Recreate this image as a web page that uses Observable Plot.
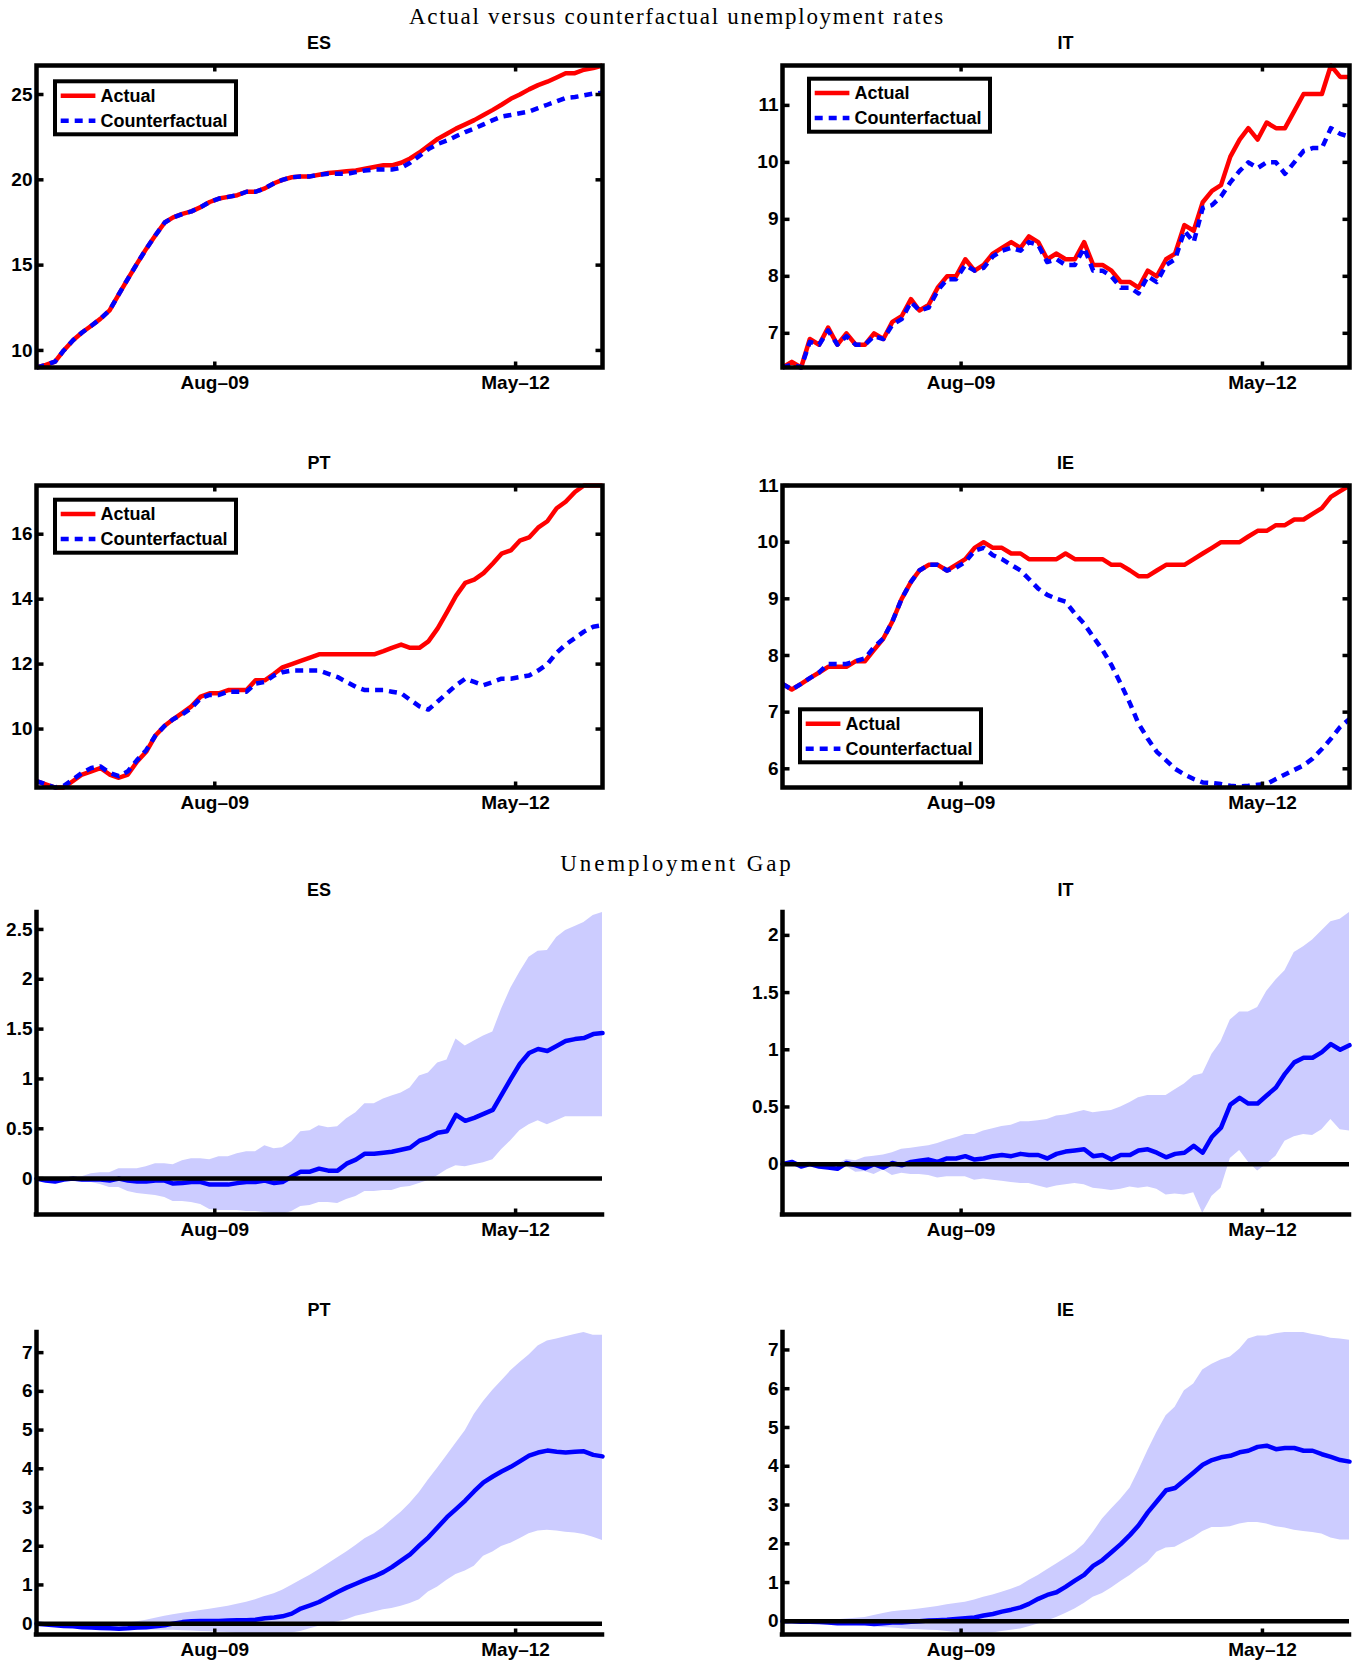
<!DOCTYPE html>
<html>
<head>
<meta charset="utf-8">
<script src="https://cdn.jsdelivr.net/npm/d3@7"></script>
<script src="https://cdn.jsdelivr.net/npm/@observablehq/plot@0.6"></script>
<style>
html,body{margin:0;padding:0;background:#fff;}
#root{position:relative;width:1359px;height:1660px;overflow:hidden;background:#fff;}
#root .panel{position:absolute;}
#root .panel svg{max-width:none;display:block;overflow:visible;background:transparent;}
#overlay{position:absolute;left:0;top:0;pointer-events:none;}
</style>
</head>
<body>
<div id="root"></div>
<script>
// ---------- text ----------
const sectionTitles = ["Actual versus counterfactual unemployment rates", "Unemployment Gap"];
const countries = ["ES", "IT", "PT", "IE"];
const seriesNames = ["Actual", "Counterfactual"];

// ---------- time axis: monthly, Dec 2007 .. Feb 2013 (63 months) ----------
const firstMonth = new Date(Date.UTC(2007, 11, 1));
const endMonth = new Date(Date.UTC(2013, 2, 1));
const xTickDates = [new Date(Date.UTC(2009, 7, 1)), new Date(Date.UTC(2012, 4, 1))]; // Aug-09, May-12

// ---------- actual vs counterfactual unemployment rates ----------
const esActual = [9.0, 9.15, 9.35, 10.0, 10.6, 11.05, 11.45, 11.85, 12.35, 13.3,
  14.2, 15.1, 15.95, 16.75, 17.5, 17.8, 18.0, 18.15, 18.4, 18.7,
  18.9, 19.0, 19.1, 19.3, 19.3, 19.5, 19.8, 20.0, 20.15, 20.2,
  20.2, 20.3, 20.4, 20.45, 20.5, 20.55, 20.65, 20.75, 20.85, 20.85,
  21.0, 21.25, 21.6, 22.0, 22.4, 22.7, 23.0, 23.25, 23.5, 23.8,
  24.1, 24.4, 24.75, 25.0, 25.3, 25.55, 25.75, 26.0, 26.25, 26.25,
  26.45, 26.55, 26.7];
const esCounterfactual = [9.0, 9.15, 9.35, 10.0, 10.6, 11.05, 11.45, 11.85, 12.35, 13.3,
  14.2, 15.1, 15.95, 16.75, 17.5, 17.8, 18.0, 18.15, 18.4, 18.7,
  18.9, 19.0, 19.1, 19.3, 19.3, 19.5, 19.8, 20.0, 20.15, 20.2,
  20.2, 20.3, 20.35, 20.35, 20.35, 20.45, 20.55, 20.6, 20.6, 20.6,
  20.7, 21.0, 21.4, 21.8, 22.1, 22.3, 22.55, 22.8, 23.0, 23.25,
  23.5, 23.7, 23.8, 23.9, 24.0, 24.2, 24.4, 24.6, 24.8, 24.85,
  24.95, 25.05, 25.1];

const itActual = [6.4, 6.5, 6.4, 6.9, 6.8, 7.1, 6.8, 7.0, 6.8, 6.8,
  7.0, 6.9, 7.2, 7.3, 7.6, 7.4, 7.5, 7.8, 8.0, 8.0,
  8.3, 8.1, 8.2, 8.4, 8.5, 8.6, 8.5, 8.7, 8.6, 8.3,
  8.4, 8.3, 8.3, 8.6, 8.2, 8.2, 8.1, 7.9, 7.9, 7.8,
  8.1, 8.0, 8.3, 8.4, 8.9, 8.8, 9.3, 9.5, 9.6, 10.1,
  10.4, 10.6, 10.4, 10.7, 10.6, 10.6, 10.9, 11.2, 11.2, 11.2,
  11.7, 11.5, 11.5];
const itCounterfactual = [6.4, 6.45, 6.4, 6.85, 6.8, 7.05, 6.8, 6.95, 6.8, 6.8,
  6.95, 6.9, 7.15, 7.25, 7.55, 7.4, 7.45, 7.75, 7.95, 7.95,
  8.2, 8.1, 8.15, 8.35, 8.45, 8.5, 8.45, 8.6, 8.55, 8.25,
  8.3, 8.2, 8.2, 8.5, 8.1, 8.1, 8.0, 7.8, 7.8, 7.7,
  8.0, 7.9, 8.2, 8.3, 8.8, 8.6, 9.2, 9.25, 9.4, 9.65,
  9.85, 10.0, 9.9, 10.0, 10.0, 9.8, 10.0, 10.2, 10.25, 10.25,
  10.6, 10.5, 10.45];

const ptActual = [8.4, 8.3, 8.2, 8.2, 8.4, 8.6, 8.7, 8.8, 8.6, 8.5,
  8.6, 9.0, 9.3, 9.8, 10.1, 10.3, 10.5, 10.7, 11.0, 11.1,
  11.1, 11.2, 11.2, 11.2, 11.5, 11.5, 11.7, 11.9, 12.0, 12.1,
  12.2, 12.3, 12.3, 12.3, 12.3, 12.3, 12.3, 12.3, 12.4, 12.5,
  12.6, 12.5, 12.5, 12.7, 13.1, 13.6, 14.1, 14.5, 14.6, 14.8,
  15.1, 15.4, 15.5, 15.8, 15.9, 16.2, 16.4, 16.8, 17.0, 17.3,
  17.5, 17.5, 17.5];
const ptCounterfactual = [8.4, 8.3, 8.2, 8.25, 8.45, 8.65, 8.8, 8.85, 8.65, 8.55,
  8.7, 9.05, 9.35, 9.8, 10.1, 10.3, 10.45, 10.65, 10.95, 11.05,
  11.05, 11.15, 11.15, 11.15, 11.4, 11.45, 11.65, 11.75, 11.8, 11.8,
  11.8, 11.8, 11.7, 11.6, 11.45, 11.3, 11.2, 11.2, 11.2, 11.15,
  11.1, 10.9, 10.7, 10.6, 10.85, 11.1, 11.35, 11.55, 11.45, 11.35,
  11.45, 11.55, 11.55, 11.6, 11.65, 11.8, 12.0, 12.35, 12.6, 12.8,
  13.0, 13.15, 13.2];

const ieActual = [7.5, 7.4, 7.5, 7.6, 7.7, 7.8, 7.8, 7.8, 7.9, 7.9,
  8.1, 8.3, 8.6, 9.0, 9.3, 9.5, 9.6, 9.6, 9.5, 9.6,
  9.7, 9.9, 10.0, 9.9, 9.9, 9.8, 9.8, 9.7, 9.7, 9.7,
  9.7, 9.8, 9.7, 9.7, 9.7, 9.7, 9.6, 9.6, 9.5, 9.4,
  9.4, 9.5, 9.6, 9.6, 9.6, 9.7, 9.8, 9.9, 10.0, 10.0,
  10.0, 10.1, 10.2, 10.2, 10.3, 10.3, 10.4, 10.4, 10.5, 10.6,
  10.8, 10.9, 11.0];
const ieCounterfactual = [7.5, 7.4, 7.5, 7.6, 7.7, 7.85, 7.85, 7.85, 7.9, 7.95,
  8.15, 8.3, 8.6, 9.0, 9.3, 9.5, 9.6, 9.6, 9.5, 9.55,
  9.65, 9.85, 9.9, 9.77, 9.7, 9.6, 9.5, 9.35, 9.18, 9.07,
  9.0, 8.95, 8.74, 8.56, 8.33, 8.1, 7.83, 7.5, 7.15, 6.8,
  6.53, 6.3, 6.15, 6.0, 5.9, 5.82, 5.76, 5.75, 5.73, 5.7,
  5.69, 5.7, 5.72, 5.73, 5.82, 5.9, 5.98, 6.06, 6.18, 6.35,
  6.53, 6.74, 6.88];

// ---------- unemployment gap (median and band) ----------
const esGapMedian = [0, -0.02, -0.03, -0.01, 0, -0.01, -0.01, -0.01, -0.02, 0,
  -0.02, -0.03, -0.03, -0.02, -0.02, -0.05, -0.045, -0.035, -0.035, -0.06,
  -0.06, -0.06, -0.045, -0.035, -0.035, -0.02, -0.045, -0.035, 0.02, 0.07,
  0.07, 0.1, 0.08, 0.08, 0.15, 0.19, 0.25, 0.25, 0.26, 0.27,
  0.29, 0.31, 0.38, 0.41, 0.46, 0.475, 0.64, 0.58, 0.61, 0.65,
  0.69, 0.84, 1.0, 1.15, 1.26, 1.3, 1.28, 1.33, 1.38, 1.4,
  1.41, 1.45, 1.46];
const esGapUpper = [0, 0.01, 0.01, 0.01, 0.01, 0.02, 0.05, 0.06, 0.06, 0.1,
  0.1, 0.1, 0.12, 0.15, 0.15, 0.14, 0.18, 0.2, 0.2, 0.19,
  0.22, 0.22, 0.25, 0.27, 0.27, 0.33, 0.3, 0.31, 0.37, 0.47,
  0.48, 0.53, 0.51, 0.52, 0.6, 0.66, 0.75, 0.75, 0.8, 0.83,
  0.86, 0.91, 1.03, 1.06, 1.16, 1.19, 1.4, 1.33, 1.38, 1.43,
  1.47, 1.7, 1.91, 2.07, 2.22, 2.28, 2.29, 2.42, 2.49, 2.53,
  2.57, 2.64, 2.67];
const esGapLower = [0, -0.02, -0.01, -0.01, -0.03, -0.04, -0.04, -0.06, -0.09, -0.09,
  -0.13, -0.15, -0.16, -0.17, -0.19, -0.23, -0.23, -0.24, -0.26, -0.31,
  -0.32, -0.32, -0.32, -0.33, -0.33, -0.34, -0.35, -0.36, -0.33, -0.28,
  -0.27, -0.24, -0.24, -0.25, -0.21, -0.18, -0.13, -0.13, -0.12, -0.12,
  -0.09, -0.08, -0.05, -0.02, 0.03, 0.09, 0.13, 0.12, 0.14, 0.16,
  0.19, 0.29, 0.38, 0.48, 0.54, 0.58, 0.54, 0.58, 0.62, 0.62,
  0.62, 0.62, 0.62];

const itGapMedian = [0, 0.02, -0.02, 0, -0.02, -0.03, -0.04, 0.01, -0.01, -0.035,
  0, -0.03, 0.01, -0.01, 0.02, 0.03, 0.04, 0.02, 0.05, 0.05,
  0.07, 0.04, 0.05, 0.07, 0.08, 0.07, 0.09, 0.08, 0.08, 0.05,
  0.09, 0.11, 0.12, 0.13, 0.07, 0.08, 0.04, 0.08, 0.08, 0.12,
  0.13, 0.1, 0.06, 0.09, 0.1, 0.16, 0.1, 0.24, 0.32, 0.52,
  0.58, 0.53, 0.53, 0.6, 0.67, 0.79, 0.89, 0.93, 0.93, 0.98,
  1.05, 1.0, 1.04];
const itGapUpper = [0.02, 0.03, 0.01, 0.02, 0.0, 0.01, 0.0, 0.04, 0.03, 0.06,
  0.07, 0.08, 0.1, 0.13, 0.14, 0.15, 0.16, 0.18, 0.21, 0.23,
  0.26, 0.26, 0.29, 0.31, 0.33, 0.34, 0.37, 0.37, 0.38, 0.39,
  0.42, 0.43, 0.45, 0.47, 0.45, 0.46, 0.47, 0.5, 0.54, 0.58,
  0.6, 0.6, 0.6, 0.65, 0.7, 0.77, 0.79, 0.96, 1.07, 1.26,
  1.33, 1.33, 1.37, 1.51, 1.61, 1.69, 1.85, 1.9, 1.96, 2.04,
  2.12, 2.14, 2.2];
const itGapLower = [-0.02, -0.01, -0.02, -0.02, -0.035, -0.02, -0.05, -0.02, -0.07, -0.065,
  -0.09, -0.05, -0.1, -0.08, -0.09, -0.09, -0.1, -0.12, -0.11, -0.11,
  -0.11, -0.14, -0.13, -0.14, -0.15, -0.16, -0.17, -0.17, -0.19, -0.21,
  -0.19, -0.18, -0.17, -0.18, -0.21, -0.22, -0.23, -0.22, -0.2, -0.21,
  -0.2, -0.22, -0.27, -0.26, -0.27, -0.25, -0.43, -0.28, -0.21, 0.05,
  0.12, 0.02, -0.06, 0.0, 0.07, 0.2, 0.24, 0.26, 0.25, 0.3,
  0.39, 0.3, 0.29];

const ptGapMedian = [0, -0.02, -0.04, -0.06, -0.07, -0.09, -0.1, -0.11, -0.12, -0.13,
  -0.12, -0.1, -0.09, -0.07, -0.04, 0.0, 0.04, 0.06, 0.07, 0.07,
  0.07, 0.08, 0.09, 0.09, 0.1, 0.14, 0.16, 0.19, 0.26, 0.39,
  0.47, 0.56, 0.69, 0.82, 0.93, 1.03, 1.13, 1.22, 1.33, 1.46,
  1.63, 1.79, 2.02, 2.23, 2.49, 2.75, 2.96, 3.18, 3.42, 3.65,
  3.8, 3.93, 4.05, 4.19, 4.34, 4.42, 4.47, 4.44, 4.42, 4.44,
  4.45, 4.36, 4.32];
const ptGapUpper = [0, 0, 0, 0, 0, -0.01, -0.01, 0, 0.01, 0.01,
  0.02, 0.05, 0.09, 0.14, 0.19, 0.23, 0.27, 0.3, 0.34, 0.37,
  0.41, 0.45, 0.5, 0.55, 0.62, 0.7, 0.77, 0.86, 0.99, 1.12,
  1.25, 1.39, 1.55, 1.7, 1.85, 2.02, 2.19, 2.32, 2.49, 2.68,
  2.88, 3.11, 3.39, 3.71, 4.02, 4.34, 4.66, 4.98, 5.4, 5.74,
  6.03, 6.27, 6.53, 6.74, 6.94, 7.17, 7.3, 7.35, 7.41, 7.47,
  7.52, 7.45, 7.45];
const ptGapLower = [0, -0.02, -0.04, -0.06, -0.08, -0.1, -0.11, -0.12, -0.13, -0.15,
  -0.17, -0.17, -0.17, -0.17, -0.17, -0.17, -0.18, -0.19, -0.2, -0.21,
  -0.22, -0.23, -0.26, -0.27, -0.27, -0.26, -0.26, -0.25, -0.24, -0.2,
  -0.13, -0.07, 0.0, 0.05, 0.1, 0.19, 0.24, 0.3, 0.36, 0.39,
  0.45, 0.52, 0.62, 0.82, 0.95, 1.12, 1.27, 1.36, 1.48, 1.74,
  1.85, 1.99, 2.08, 2.19, 2.32, 2.39, 2.41, 2.39, 2.36, 2.34,
  2.3, 2.23, 2.15];

const ieGapMedian = [0, 0, -0.01, -0.01, -0.02, -0.03, -0.05, -0.05, -0.05, -0.05,
  -0.07, -0.05, -0.03, -0.03, -0.01, 0, 0.02, 0.03, 0.04, 0.06,
  0.08, 0.1, 0.15, 0.19, 0.25, 0.3, 0.36, 0.45, 0.58, 0.68,
  0.75, 0.89, 1.05, 1.2, 1.43, 1.58, 1.78, 1.99, 2.23, 2.47,
  2.81, 3.09, 3.38, 3.44, 3.64, 3.84, 4.04, 4.16, 4.23, 4.27,
  4.36, 4.4, 4.5, 4.53, 4.44, 4.47, 4.47, 4.4, 4.4, 4.31,
  4.24, 4.16, 4.12];
const ieGapUpper = [0.01, 0.01, 0.01, 0.01, 0.02, 0.03, 0.04, 0.06, 0.08, 0.1,
  0.15, 0.2, 0.25, 0.27, 0.29, 0.32, 0.35, 0.38, 0.43, 0.46,
  0.49, 0.55, 0.62, 0.68, 0.75, 0.83, 0.92, 1.05, 1.18, 1.33,
  1.48, 1.63, 1.78, 1.99, 2.29, 2.64, 2.9, 3.15, 3.44, 3.88,
  4.4, 4.87, 5.3, 5.52, 5.95, 6.12, 6.48, 6.63, 6.74, 6.82,
  7.02, 7.28, 7.36, 7.36, 7.42, 7.45, 7.45, 7.45, 7.4, 7.36,
  7.3, 7.28, 7.25];
const ieGapLower = [-0.03, -0.03, -0.04, -0.05, -0.06, -0.07, -0.08, -0.1, -0.11, -0.12,
  -0.14, -0.16, -0.17, -0.19, -0.21, -0.22, -0.23, -0.24, -0.26, -0.29,
  -0.33, -0.34, -0.33, -0.3, -0.26, -0.23, -0.2, -0.14, -0.07, 0.01,
  0.1, 0.2, 0.32, 0.46, 0.62, 0.72, 0.86, 1.03, 1.18, 1.35,
  1.52, 1.78, 1.89, 1.91, 2.04, 2.16, 2.32, 2.42, 2.42, 2.44,
  2.51, 2.55, 2.55, 2.51, 2.44, 2.41, 2.35, 2.32, 2.29, 2.25,
  2.15, 2.1, 2.1];

// ---------- axis domains and ticks ----------
const rateDomains = {ES: [9.0, 26.7], IT: [6.4, 11.7], PT: [8.2, 17.5], IE: [5.67, 11.0]};
const rateTicks = {ES: [10, 15, 20, 25], IT: [7, 8, 9, 10, 11], PT: [10, 12, 14, 16], IE: [6, 7, 8, 9, 10, 11]};
const gapDomains = {ES: [-0.36, 2.67], IT: [-0.44, 2.2], PT: [-0.28, 7.52], IE: [-0.34, 7.45]};
const gapTicks = {ES: [0, 0.5, 1, 1.5, 2, 2.5], IT: [0, 0.5, 1, 1.5, 2], PT: [0, 1, 2, 3, 4, 5, 6, 7], IE: [0, 1, 2, 3, 4, 5, 6, 7]};

// ---------- build ----------
const dates = d3.utcMonth.range(firstMonth, endMonth).map(d => d3.utcDay.offset(d, 14));
const xDomain = [dates[0], dates[dates.length - 1]];
const fmtMonth = d3.utcFormat("%b\u2013%y");
const root = document.getElementById("root");
const FONT = "'Liberation Sans', Arial, Helvetica, sans-serif";
const plotStyle = {fontFamily: FONT, fontSize: "19px", fontWeight: "bold", color: "#000", background: "transparent", overflow: "visible"};
const labelFont = {fontSize: 19, fontWeight: "bold", fill: "#000"};
const LW = 4.5;

const layout = {
  cols: [{left: 0, marginLeft: 36, plotWidth: 566}, {left: 680, marginLeft: 102, plotWidth: 567}],
  rateRows: [65, 485],
  gapRows: [912, 1332]
};

function place(svg, left, top) {
  const d = document.createElement("div");
  d.className = "panel";
  d.style.left = left + "px";
  d.style.top = top + "px";
  d.append(svg);
  root.append(d);
}

function tickMarks(yTicks, mirrored) {
  const common = {tickSize: 6.5, strokeWidth: 3.5, stroke: "#000", fill: "none", label: null};
  const marks = [
    Plot.axisY(yTicks, {anchor: "right", frameAnchor: "left", ...common}),
    Plot.axisX(xTickDates, {anchor: "top", frameAnchor: "bottom", ...common})
  ];
  if (mirrored) {
    marks.push(Plot.axisY(yTicks, {anchor: "left", frameAnchor: "right", ...common}));
    marks.push(Plot.axisX(xTickDates, {anchor: "bottom", frameAnchor: "top", ...common}));
  }
  return marks;
}
function tickLabels(yTicks) {
  return [
    Plot.axisY(yTicks, {anchor: "left", tickSize: 0, tickPadding: 4, tickFormat: d => String(d), label: null, ...labelFont}),
    Plot.axisX(xTickDates, {anchor: "bottom", tickSize: 0, tickPadding: 7.5, tickFormat: fmtMonth, label: null, ...labelFont})
  ];
}

function ratePanel(code, actual, counterfactual, col, top) {
  const rows = dates.map((date, i) => ({date, actual: actual[i], counterfactual: counterfactual[i]}));
  const mT = 20, mB = 37, mR = 10, h = 302;
  const svg = Plot.plot({
    width: col.marginLeft + col.plotWidth + mR,
    height: mT + h + mB,
    marginLeft: col.marginLeft, marginRight: mR, marginTop: mT, marginBottom: mB,
    style: plotStyle,
    x: {type: "utc", domain: xDomain},
    y: {type: "linear", domain: rateDomains[code]},
    marks: [
      Plot.line(rows, {x: "date", y: "actual", stroke: "#ff0000", strokeWidth: LW, strokeLinejoin: "round", strokeLinecap: "butt"}),
      Plot.line(rows, {x: "date", y: "counterfactual", stroke: "#0000ff", strokeWidth: LW, strokeDasharray: "8,6", strokeLinecap: "butt"}),
      Plot.frame({stroke: "#000", strokeWidth: 4.5}),
      ...tickMarks(rateTicks[code], true),
      ...tickLabels(rateTicks[code])
    ]
  });
  place(svg, col.left, top - mT);
}

function gapPanel(code, lower, median, upper, col, top, mB) {
  const rows = dates.map((date, i) => ({date, lower: lower[i], median: median[i], upper: upper[i]}));
  const mT = 20, mR = 10, h = 302;
  const yDom = gapDomains[code];
  const svg = Plot.plot({
    width: col.marginLeft + col.plotWidth + mR,
    height: mT + h + mB,
    marginLeft: col.marginLeft, marginRight: mR, marginTop: mT, marginBottom: mB,
    style: plotStyle,
    x: {type: "utc", domain: xDomain},
    y: {type: "linear", domain: yDom},
    marks: [
      Plot.areaY(rows, {x: "date", y1: "lower", y2: "upper", fill: "#ccccff"}),
      Plot.line(rows, {x: "date", y: "median", stroke: "#0000ff", strokeWidth: LW}),
      Plot.ruleY([0], {stroke: "#000", strokeWidth: 4.5}),
      Plot.ruleX([xDomain[0]], {stroke: "#000", strokeWidth: 4.5, strokeLinecap: "square"}),
      Plot.ruleY([yDom[0]], {stroke: "#000", strokeWidth: 4.5, strokeLinecap: "square"}),
      ...tickMarks(gapTicks[code], false),
      ...tickLabels(gapTicks[code])
    ]
  });
  place(svg, col.left, top - mT);
}

const [L, R] = layout.cols;
ratePanel("ES", esActual, esCounterfactual, L, layout.rateRows[0]);
ratePanel("IT", itActual, itCounterfactual, R, layout.rateRows[0]);
ratePanel("PT", ptActual, ptCounterfactual, L, layout.rateRows[1]);
ratePanel("IE", ieActual, ieCounterfactual, R, layout.rateRows[1]);
gapPanel("ES", esGapLower, esGapMedian, esGapUpper, L, layout.gapRows[0], 37);
gapPanel("IT", itGapLower, itGapMedian, itGapUpper, R, layout.gapRows[0], 37);
gapPanel("PT", ptGapLower, ptGapMedian, ptGapUpper, L, layout.gapRows[1], 26);
gapPanel("IE", ieGapLower, ieGapMedian, ieGapUpper, R, layout.gapRows[1], 26);

// ---------- titles and legends (overlay) ----------
const overlay = d3.select(root).append("svg").attr("id", "overlay").attr("width", 1359).attr("height", 1660);
const serif = "'Liberation Serif', 'Times New Roman', serif";
overlay.append("text").attr("x", 677).attr("y", 24).attr("text-anchor", "middle")
  .attr("font-family", serif).attr("font-size", 23).attr("letter-spacing", 1.7).text(sectionTitles[0]);
overlay.append("text").attr("x", 677).attr("y", 871).attr("text-anchor", "middle")
  .attr("font-family", serif).attr("font-size", 23).attr("letter-spacing", 2.9).text(sectionTitles[1]);

const colCenters = [L.left + L.marginLeft + L.plotWidth / 2, R.left + R.marginLeft + R.plotWidth / 2];
const titleBaselines = [[49.3, 469.3], [896, 1316]];
titleBaselines.forEach((rowsY) => {
  rowsY.forEach((y, r) => {
    [0, 1].forEach(c => {
      overlay.append("text").attr("x", colCenters[c]).attr("y", y).attr("text-anchor", "middle")
        .attr("font-family", FONT).attr("font-weight", "bold").attr("font-size", 18)
        .text(countries[r * 2 + c]);
    });
  });
});

function legend(x, y) {
  const g = overlay.append("g").attr("transform", `translate(${x},${y})`);
  g.append("rect").attr("x", 2).attr("y", 2).attr("width", 181).attr("height", 53)
    .attr("fill", "#fff").attr("stroke", "#000").attr("stroke-width", 4);
  const items = [[seriesNames[0], "#ff0000", null, 16.4], [seriesNames[1], "#0000ff", "8,6", 41.4]];
  items.forEach(([name, color, dash, cy]) => {
    g.append("line").attr("x1", 7.7).attr("x2", 42.4).attr("y1", cy).attr("y2", cy)
      .attr("stroke", color).attr("stroke-width", LW).attr("stroke-dasharray", dash);
    g.append("text").attr("x", 47.6).attr("y", cy + 6.4)
      .attr("font-family", FONT).attr("font-weight", "bold").attr("font-size", 18).text(name);
  });
}
legend(53, 79.3);
legend(807, 76.7);
legend(53, 497.7);
legend(798, 707.3);
</script>
</body>
</html>
